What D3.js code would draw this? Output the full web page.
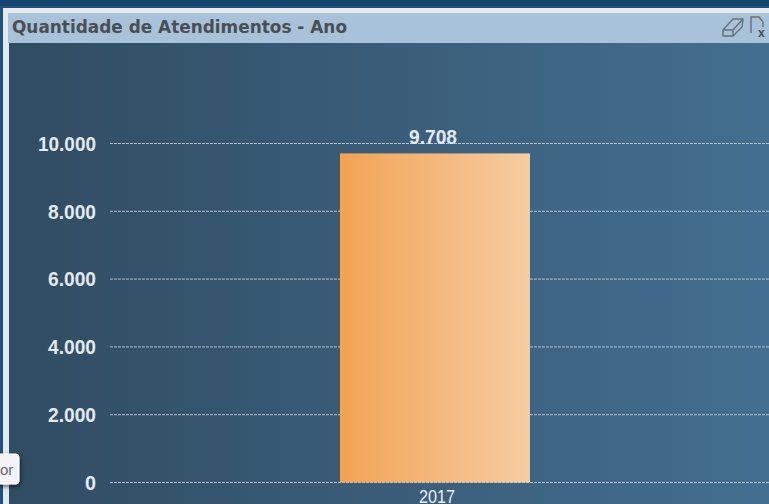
<!DOCTYPE html>
<html>
<head>
<meta charset="utf-8">
<script src="https://cdn.jsdelivr.net/npm/d3@7"></script>
<style>
  html, body { margin: 0; padding: 0; background: #1b5380; overflow: hidden; }
  svg { display: block; }
</style>
</head>
<body>
<svg width="769" height="504"></svg>
<script>
const years = ["2017"];
const atendimentos = [9708];
const yTicks = [0, 2000, 4000, 6000, 8000, 10000];
const titleText = "Quantidade de Atendimentos - Ano";

const svg = d3.select("svg");
const fmt = v => d3.format(",")(v).replace(/,/g, ".");
const labelFont = "'Liberation Sans', sans-serif";
// the original labels are a narrow face, so squeeze them to the width they have there
const labelWidth = v => {
  const s = fmt(v);
  return s.length === 1 ? 11 : s.replace(".", "").length * 10 + 8;
};

const defs = svg.append("defs");

const bgGrad = defs.append("linearGradient").attr("id", "bgGrad");
bgGrad.append("stop").attr("offset", "0%").attr("stop-color", "#304c62");
bgGrad.append("stop").attr("offset", "100%").attr("stop-color", "#446f90");

const barGrad = defs.append("linearGradient").attr("id", "barGrad");
barGrad.append("stop").attr("offset", "0%").attr("stop-color", "#f2a354");
barGrad.append("stop").attr("offset", "100%").attr("stop-color", "#f6cca2");

const shadow = defs.append("filter").attr("id", "shadow")
  .attr("x", "-30%").attr("y", "-30%").attr("width", "170%").attr("height", "170%");
shadow.append("feDropShadow").attr("dx", 1).attr("dy", 2)
  .attr("stdDeviation", 2).attr("flood-color", "#000").attr("flood-opacity", 0.6);

// page behind the window
svg.append("rect").attr("width", 769).attr("height", 504).attr("fill", "#1b5380");
svg.append("rect").attr("width", 769).attr("height", 6).attr("fill", "#15456f");

// window frame and caption
svg.append("rect").attr("x", 3).attr("y", 8).attr("width", 766).attr("height", 496).attr("fill", "#e6e8ea");
svg.append("rect").attr("x", 8).attr("y", 13).attr("width", 761).attr("height", 30).attr("fill", "#a8c2d9");
svg.append("rect").attr("x", 9).attr("y", 43).attr("width", 760).attr("height", 461).attr("fill", "url(#bgGrad)");

svg.append("text")
  .attr("x", 12).attr("y", 33)
  .attr("font-family", "'DejaVu Sans Condensed', 'DejaVu Sans', sans-serif")
  .attr("font-size", 18)
  .attr("font-weight", "bold")
  .attr("textLength", 335)
  .attr("lengthAdjust", "spacingAndGlyphs")
  .attr("fill", "#4a4f54")
  .text(titleText);

// caption icons
const icons = svg.append("g").attr("fill", "none").attr("stroke", "#6a7078").attr("stroke-width", 1.4);
icons.append("path").attr("d", "M723 30 L733 19 L743 19 L742 27 L733 36 L723 36 Z M723 30 L733 30 L742 20 M733 30 L733 36");
icons.append("path").attr("d", "M751 33 L751 17 L759 17 L763 22 L763 27");
svg.append("text").attr("x", 758).attr("y", 37)
  .attr("font-family", labelFont)
  .attr("font-size", 12).attr("font-weight", "bold").attr("fill", "#4a4f54").text("x");

// scales
const x = d3.scaleBand().domain(years).range([340, 530]);
const y = d3.scaleLinear().domain([0, 10000]).range([482.5, 143.5]);

// gridlines and y labels
const yAxis = d3.axisLeft(y)
  .tickValues(yTicks)
  .tickSize(0)
  .tickPadding(14)
  .tickFormat(fmt);

const gy = svg.append("g").attr("transform", "translate(110,0)").call(yAxis);
gy.select(".domain").remove();
gy.selectAll("text")
  .attr("fill", "#e4e9ee")
  .attr("font-size", 20)
  .attr("font-weight", "bold")
  .attr("font-family", labelFont)
  .attr("textLength", labelWidth)
  .attr("lengthAdjust", "spacingAndGlyphs")
  .attr("dy", "0.34em");

const grid = svg.append("g");
grid.selectAll("line").data(yTicks).enter().append("line")
  .attr("x1", 110).attr("x2", 769)
  .attr("y1", d => y(d)).attr("y2", d => y(d))
  .attr("stroke", "#b4c1cc")
  .attr("stroke-width", 1)
  .attr("stroke-dasharray", "3 1");

// bars
svg.selectAll("rect.bar").data(atendimentos).enter().append("rect")
  .attr("class", "bar")
  .attr("x", (d, i) => x(years[i]))
  .attr("y", d => y(d))
  .attr("width", x.bandwidth())
  .attr("height", d => y(0) - y(d))
  .attr("fill", "url(#barGrad)");

// value label
svg.selectAll("text.value").data(atendimentos).enter().append("text")
  .attr("class", "value")
  .attr("x", (d, i) => x(years[i]) + x.bandwidth() / 2 - 2)
  .attr("y", 144)
  .attr("text-anchor", "middle")
  .attr("fill", "#e4e9ee")
  .attr("font-size", 20)
  .attr("font-weight", "bold")
  .attr("font-family", labelFont)
  .attr("textLength", labelWidth)
  .attr("lengthAdjust", "spacingAndGlyphs")
  .text(fmt);

// x labels
const xAxis = d3.axisBottom(x).tickSize(0).tickPadding(0);
const gx = svg.append("g").attr("transform", "translate(2,490)").call(xAxis);
gx.select(".domain").remove();
gx.selectAll("text")
  .attr("fill", "#eef1f4")
  .attr("font-size", 18)
  .attr("font-family", labelFont)
  .attr("textLength", 36)
  .attr("lengthAdjust", "spacingAndGlyphs");

// clipped tooltip button at the left edge
svg.append("rect")
  .attr("x", -12).attr("y", 454).attr("width", 31).attr("height", 30).attr("rx", 3)
  .attr("fill", "#f3f3f8").attr("stroke", "#ffffff").attr("filter", "url(#shadow)");
svg.append("text").attr("x", 0).attr("y", 475)
  .attr("font-family", labelFont)
  .attr("font-size", 15).attr("fill", "#6b6470").text("or");
</script>
</body>
</html>
